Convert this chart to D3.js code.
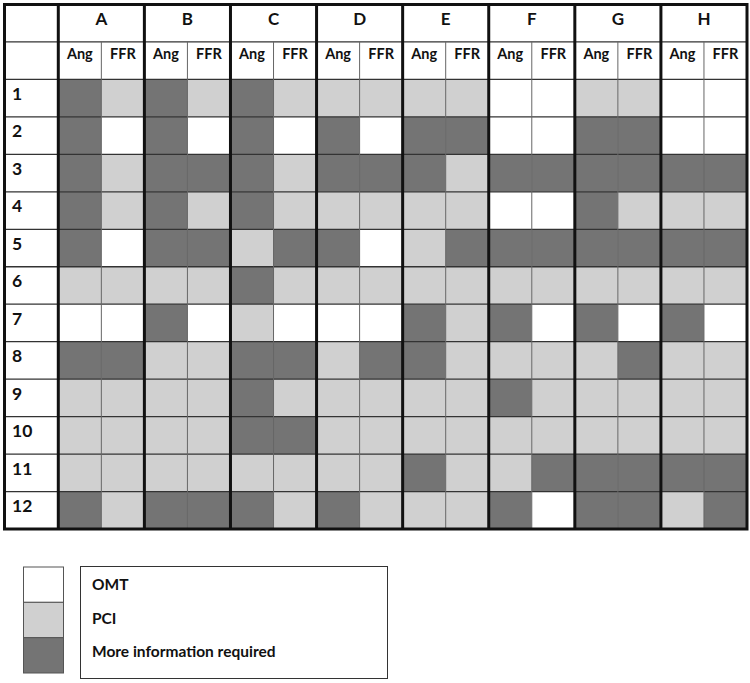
<!DOCTYPE html>
<html>
<head>
<meta charset="utf-8">
<script src="https://cdn.jsdelivr.net/npm/d3@7"></script>
<style>
  body { margin: 0; background: #fff; }
  svg text { font-family: Lato, "Open Sans", sans-serif; font-weight: bold; fill: #111; }
</style>
</head>
<body>
<svg id="chart" width="750" height="683"></svg>
<script>
// groups (columns) and the two sub-columns inside each
const groups = ["A", "B", "C", "D", "E", "F", "G", "H"];
const subCols = ["Ang", "FFR"];
const rowLabels = ["1", "2", "3", "4", "5", "6", "7", "8", "9", "10", "11", "12"];

// legend categories: O = OMT, P = PCI, M = More information required
const categoryCodes = ["O", "P", "M"];
const categoryNames = ["OMT", "PCI", "More information required"];

// one entry per row, pairs are Ang/FFR for A..H
const row1  = ["M","P", "M","P", "M","P", "P","P", "P","P", "O","O", "P","P", "O","O"];
const row2  = ["M","O", "M","O", "M","O", "M","O", "M","M", "O","O", "M","M", "O","O"];
const row3  = ["M","P", "M","M", "M","P", "M","M", "M","P", "M","M", "M","M", "M","M"];
const row4  = ["M","P", "M","P", "M","P", "P","P", "P","P", "O","O", "M","P", "P","P"];
const row5  = ["M","O", "M","M", "P","M", "M","O", "P","M", "M","M", "M","M", "M","M"];
const row6  = ["P","P", "P","P", "M","P", "P","P", "P","P", "P","P", "P","P", "P","P"];
const row7  = ["O","O", "M","O", "P","O", "O","O", "M","P", "M","O", "M","O", "M","O"];
const row8  = ["M","M", "P","P", "M","M", "P","M", "M","P", "P","P", "P","M", "P","P"];
const row9  = ["P","P", "P","P", "M","P", "P","P", "P","P", "M","P", "P","P", "P","P"];
const row10 = ["P","P", "P","P", "M","M", "P","P", "P","P", "P","P", "P","P", "P","P"];
const row11 = ["P","P", "P","P", "P","P", "P","P", "M","P", "P","M", "M","M", "M","M"];
const row12 = ["M","P", "M","M", "M","P", "M","P", "P","P", "M","O", "M","M", "P","M"];
const rowValues = [row1, row2, row3, row4, row5, row6, row7, row8, row9, row10, row11, row12];

const svg = d3.select("#chart");

const color = d3.scaleOrdinal()
    .domain(categoryCodes)
    .range(["#ffffff", "#d0d0d0", "#747474"]);

// table geometry
const tLeft = 4.5, labelRight = 58.3, tRight = 747, tTop = 4.5, tBottom = 529;
const headRows = ["head1", "head2"];

var x = d3.scaleBand().domain(groups).range([labelRight, tRight]);
var xSub = d3.scaleBand().domain(subCols).range([0, x.bandwidth()]);
var y = d3.scaleBand().domain(headRows.concat(rowLabels)).range([tTop, tBottom]);

// flatten cells
var cells = [];
rowValues.forEach(function(vals, r) {
    vals.forEach(function(code, c) {
        cells.push({
            row: rowLabels[r],
            group: groups[Math.floor(c / 2)],
            sub: subCols[c % 2],
            code: code
        });
    });
});

var grid = svg.append("g");

grid.append("rect")
    .attr("x", tLeft).attr("y", tTop)
    .attr("width", tRight - tLeft).attr("height", tBottom - tTop)
    .attr("fill", "#fff");

grid.selectAll("rect.cell")
    .data(cells)
    .join("rect")
    .attr("class", "cell")
    .attr("x", d => x(d.group) + xSub(d.sub))
    .attr("y", d => y(d.row))
    .attr("width", xSub.bandwidth())
    .attr("height", y.bandwidth())
    .attr("fill", d => color(d.code));

// thin horizontal lines
grid.selectAll("line.h")
    .data(y.domain().slice(1))
    .join("line")
    .attr("class", "h")
    .attr("x1", tLeft).attr("x2", tRight)
    .attr("y1", d => y(d)).attr("y2", d => y(d))
    .attr("stroke", "#333")
    .attr("stroke-width", 1.3);

// thin vertical lines between Ang and FFR
grid.selectAll("line.v")
    .data(groups)
    .join("line")
    .attr("class", "v")
    .attr("x1", d => x(d) + xSub("FFR")).attr("x2", d => x(d) + xSub("FFR"))
    .attr("y1", y("head2")).attr("y2", tBottom)
    .attr("stroke", "#666")
    .attr("stroke-width", 1);

// thick lines: label column and group separators
grid.selectAll("line.g")
    .data(groups)
    .join("line")
    .attr("class", "g")
    .attr("x1", d => x(d)).attr("x2", d => x(d))
    .attr("y1", tTop).attr("y2", tBottom)
    .attr("stroke", "#111")
    .attr("stroke-width", 3);

grid.append("rect")
    .attr("x", tLeft).attr("y", tTop)
    .attr("width", tRight - tLeft).attr("height", tBottom - tTop)
    .attr("fill", "none")
    .attr("stroke", "#111")
    .attr("stroke-width", 3);

// header texts
grid.selectAll("text.group")
    .data(groups)
    .join("text")
    .attr("class", "group")
    .attr("x", d => x(d) + x.bandwidth() / 2)
    .attr("y", y("head1") + 20)
    .attr("text-anchor", "middle")
    .attr("font-size", 17)
    .text(d => d);

var subHeads = [];
groups.forEach(function(g) {
    subCols.forEach(function(s) { subHeads.push({ group: g, sub: s }); });
});

grid.selectAll("text.sub")
    .data(subHeads)
    .join("text")
    .attr("class", "sub")
    .attr("x", d => x(d.group) + xSub(d.sub) + xSub.bandwidth() / 2)
    .attr("y", y("head2") + 17.5)
    .attr("text-anchor", "middle")
    .attr("font-size", 14.5)
    .text(d => d.sub);

grid.selectAll("text.rowlab")
    .data(rowLabels)
    .join("text")
    .attr("class", "rowlab")
    .attr("x", 12)
    .attr("y", d => y(d) + 20.5)
    .attr("font-size", 17.5)
    .text(d => d);

// legend
var legY = d3.scaleBand().domain(categoryCodes).range([567, 673]);
var legend = svg.append("g");

legend.selectAll("rect.sw")
    .data(categoryCodes)
    .join("rect")
    .attr("class", "sw")
    .attr("x", 23.5)
    .attr("y", d => legY(d))
    .attr("width", 40)
    .attr("height", legY.bandwidth())
    .attr("fill", d => color(d))
    .attr("stroke", "#555")
    .attr("stroke-width", 1);

legend.append("rect")
    .attr("x", 80.5).attr("y", 566.5)
    .attr("width", 307).attr("height", 112)
    .attr("fill", "none")
    .attr("stroke", "#333")
    .attr("stroke-width", 1);

legend.selectAll("text.leg")
    .data(categoryCodes)
    .join("text")
    .attr("class", "leg")
    .attr("x", 92)
    .attr("y", (d, i) => [590, 624, 657][i])
    .attr("font-size", 15.5)
    .text((d, i) => categoryNames[i]);
</script>
</body>
</html>
